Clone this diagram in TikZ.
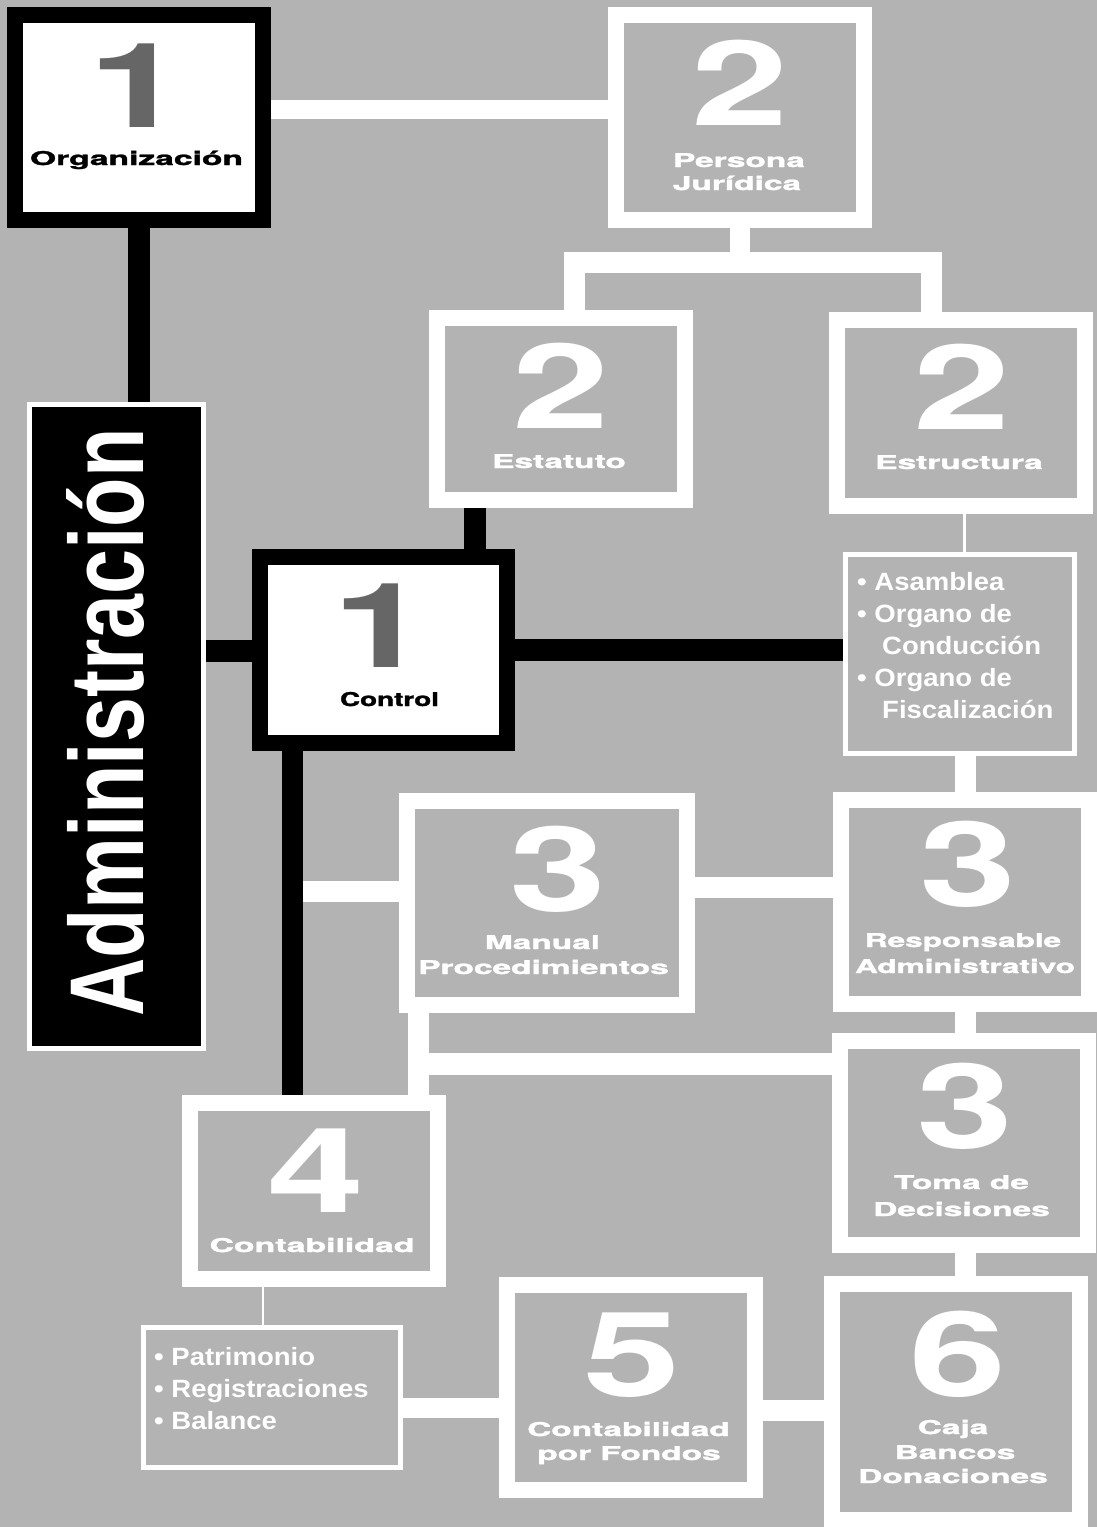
\documentclass[tikz,border=0pt]{standalone}
\usepackage{fontspec}
\setmainfont{Liberation Sans}
\newfontfamily\herosfont{TeX Gyre Heros}
\newfontfamily\lblfont{TeX Gyre Heros}[BoldFeatures={FakeBold=1.3}]
\usepackage{graphicx}
\definecolor{bggray}{RGB}{179,179,179}
\definecolor{diggray}{RGB}{102,102,102}
\pgfdeclarelayer{bottom}
\pgfdeclarelayer{links}
\pgfsetlayers{bottom,links,main}
\newcommand\sx[2]{\scalebox{#1}[1]{#2}}
\begin{document}
\begin{tikzpicture}[x=1pt,y=-1pt,
  wbox/.style={draw=black,fill=white,line width=16pt,inner sep=0pt},
  gbox/.style={draw=white,fill=bggray,line width=16pt,inner sep=0pt},
  lbox/.style={draw=white,fill=bggray,line width=5pt,inner sep=0pt},
  abox/.style={draw=white,fill=black,line width=5pt,inner sep=0pt},
  wl/.style={draw=white,line width=#1},
  bl/.style={draw=black,line width=#1},
  dig/.style={inner sep=0pt,anchor=base,font=\herosfont\fontsize{118}{118}\selectfont\bfseries},
  lbl/.style={inner sep=0pt,anchor=base,text=white,font=\lblfont\fontsize{19}{21}\selectfont\bfseries},
  lst/.style={inner sep=0pt,anchor=base west,text=white,font=\fontsize{25}{28}\selectfont\bfseries}]
\useasboundingbox (0,0) rectangle (1097,1527);
\begin{pgfonlayer}{bottom}
\fill[bggray] (0,0) rectangle (1097,1527);
\end{pgfonlayer}

% boxes
\node[wbox,minimum width=248pt,minimum height=205pt] (o1) at (139,117.5) {};
\node[gbox,minimum width=248pt,minimum height=205pt] (p2) at (740,117.5) {};
\node[gbox,minimum width=248pt,minimum height=182pt] (e2) at (561,409) {};
\node[gbox,minimum width=248pt,minimum height=186pt] (s2) at (961,413) {};
\node[wbox,minimum width=247pt,minimum height=186pt] (c1) at (383.5,650) {};
\node[lbox,minimum width=229pt,minimum height=199pt] (ls) at (960,654) {};
\node[abox,minimum width=174pt,minimum height=644pt] (adm) at (116.5,726.5) {};
\node[gbox,minimum width=280pt,minimum height=204pt] (m3) at (547,903) {};
\node[gbox,minimum width=248pt,minimum height=204pt] (r3) at (965,902) {};
\node[gbox,minimum width=248pt,minimum height=204pt] (t3) at (964,1143) {};
\node[gbox,minimum width=248pt,minimum height=176pt] (k4) at (314,1191) {};
\node[lbox,minimum width=257pt,minimum height=140pt] (lk) at (272,1397.5) {};
\node[gbox,minimum width=248pt,minimum height=205pt] (f5) at (631,1387.5) {};
\node[gbox,minimum width=248pt,minimum height=236pt] (c6) at (956,1402) {};

% junction coordinates
\coordinate (jl) at (574,262);
\coordinate (jr) at (931.5,262);
\coordinate (jm) at (292.5,891);
\coordinate (jk) at (418.5,1064);

% connectors
\begin{pgfonlayer}{links}
\draw[wl=19pt] (o1.east |- 0,109.5) -- (p2.west |- 0,109.5);
\draw[wl=20pt] (p2.south) -- (p2.south |- jl);
\draw[wl=21pt] (e2.north -| jl) -- (jl) -- (jr) -- (s2.north -| jr);
\draw[wl=3pt] (s2.south -| 964,0) -- (ls.north -| 964,0);
\draw[wl=21pt] (ls.south -| 965.5,0) -- (r3.north -| 965.5,0);
\draw[wl=21pt] (jm) -- (m3.west |- jm);
\draw[wl=21pt] (m3.east |- 0,887.5) -- (r3.west |- 0,887.5);
\draw[wl=21pt] (r3.south -| 965.5,0) -- (t3.north -| 965.5,0);
\draw[wl=21pt] (m3.south -| jk) -- (k4.north -| jk);
\draw[wl=22pt] (jk) -- (t3.west |- jk);
\draw[wl=21pt] (t3.south -| 965.5,0) -- (c6.north -| 965.5,0);
\draw[wl=2.5pt] (k4.south -| 263,0) -- (lk.north -| 263,0);
\draw[wl=20pt] (lk.east |- 0,1408) -- (f5.west |- 0,1408);
\draw[wl=21pt] (f5.east |- 0,1410.5) -- (c6.west |- 0,1410.5);
\draw[bl=22pt] (o1.south) -- (o1.south |- adm.north);
\draw[bl=22pt] (e2.south -| 475,0) -- (c1.north -| 475,0);
\draw[bl=22pt] (c1.west |- 0,651) -- (adm.east |- 0,651);
\draw[bl=22pt] (c1.east |- 0,650) -- (ls.west |- 0,650);
\draw[bl=21pt] (c1.south -| jm) -- (k4.north -| jm);
\end{pgfonlayer}

% digits
\node[dig,text=diggray] (o1d) at (137,127) {\sx{1.48}{1}};
\node[dig,text=white] (p2d) at (740.5,125) {\sx{1.48}{2}};
\node[dig,text=white] (e2d) at (561.5,428) {\sx{1.48}{2}};
\node[dig,text=white] (s2d) at (962.5,429) {\sx{1.48}{2}};
\node[dig,text=diggray] (c1d) at (381.5,667) {\sx{1.48}{1}};
\node[dig,text=white] (m3d) at (558.5,911) {\sx{1.48}{3}};
\node[dig,text=white] (r3d) at (968,906) {\sx{1.48}{3}};
\node[dig,text=white] (t3d) at (965,1148) {\sx{1.48}{3}};
\node[dig,text=white] (k4d) at (316.5,1212) {\sx{1.48}{4}};
\node[dig,text=white] (f5d) at (632.5,1396) {\sx{1.48}{5}};
\node[dig,text=white] (c6d) at (958.5,1396) {\sx{1.48}{6}};

% labels
\node[lbl,text=black] (o1t) at (136.5,165) {\resizebox{213pt}{\height}{Organización}};
\node[lbl] (p2t1) at (739,167) {\sx{1.76}{Persona}};
\node[lbl] (p2t2) at (737,190) {\sx{1.76}{Jurídica}};
\node[lbl] (e2t) at (559,468) {\sx{1.76}{Estatuto}};
\node[lbl] (s2t) at (959,469) {\sx{1.76}{Estructura}};
\node[lbl,text=black] (c1t) at (389.5,706) {\resizebox{99pt}{\height}{Control}};
\node[lbl] (m3t1) at (542.5,949) {\sx{1.76}{Manual}};
\node[lbl] (m3t2) at (543.5,974) {\sx{1.76}{Procedimientos}};
\node[lbl] (r3t1) at (963,947) {\sx{1.66}{Responsable}};
\node[lbl] (r3t2) at (965,973) {\sx{1.66}{Administrativo}};
\node[lbl] (t3t1) at (961.5,1189) {\sx{1.76}{Toma de}};
\node[lbl] (t3t2) at (961.5,1216) {\sx{1.76}{Decisiones}};
\node[lbl] (k4t) at (312,1252) {\sx{1.78}{Contabilidad}};
\node[lbl] (f5t1) at (628.5,1436) {\sx{1.76}{Contabilidad}};
\node[lbl] (f5t2) at (629,1460) {\sx{1.76}{por Fondos}};
\node[lbl] (c6t1) at (953,1434) {\sx{1.76}{Caja}};
\node[lbl] (c6t2) at (955,1459) {\sx{1.76}{Bancos}};
\node[lbl] (c6t3) at (953,1483) {\sx{1.76}{Donaciones}};

% lists
\node[lst] (ls1) at (857,590) {\sx{1.1}{• Asamblea}};
\node[lst] (ls2) at (857,622) {\sx{1.1}{• Organo de}};
\node[lst] (ls3) at (882,654) {\sx{1.1}{Conducción}};
\node[lst] (ls4) at (857,686) {\sx{1.1}{• Organo de}};
\node[lst] (ls5) at (882,718) {\sx{1.1}{Fiscalización}};
\node[lst] (lk1) at (154,1365) {\sx{1.1}{• Patrimonio}};
\node[lst] (lk2) at (154,1397) {\sx{1.1}{• Registraciones}};
\node[lst] (lk3) at (154,1429) {\sx{1.1}{• Balance}};

% vertical title
\node[inner sep=0pt,anchor=base west,rotate=90,text=white,font=\fontsize{105}{105}\selectfont\bfseries] (admt) at (143,1017) {\sx{0.77}{Administración}};
\end{tikzpicture}
\end{document}
